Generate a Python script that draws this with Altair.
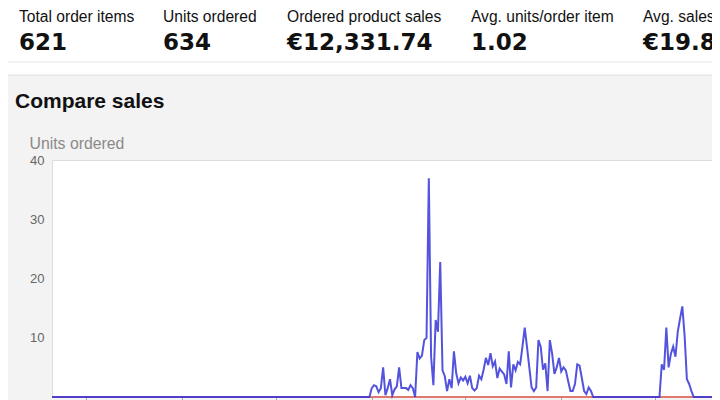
import altair as alt
import pandas as pd

# ---- KPI strip ----
kpi_labels = ["Total order items", "Units ordered", "Ordered product sales",
              "Avg. units/order item", "Avg. sales/order item"]
kpi_values = ["621", "634", "€12,331.74", "1.02", "€19.86"]

# ---- daily units ordered ----
zeros_start = [0] * 138
burst_1 = [0, 0, 1.5, 2, 1.8, 0.8, 1.5, 5, 0.3, 1.5, 3, 0.3, 1.3, 1.8, 5, 1.5,
           1.5, 1.5, 1.2, 2, 1.5, 0, 7.6, 6.5, 7, 9.6, 10, 36.9, 6.8, 2, 13, 11,
           22.8, 4.5, 3.5, 1, 3, 1.5, 7.7, 4, 2.3, 3.3, 2.8, 3.4, 2.3, 3.6, 1.5,
           1.1, 1.5, 3.6, 3, 4.6, 6.6, 5.4, 7.4, 5.2, 6, 3.2, 4.8, 4.3, 3.8, 2.2,
           7.7, 1.6, 5.5, 4.5, 5.9, 5.5, 8.5, 11.7, 8.4, 5, 1.6, 1, 1.6, 9.6, 8.5,
           4.6, 5.7, 1, 9.6, 7.3, 3.9, 5, 6.6, 4.3, 5, 4.5, 2.7, 1, 1, 2.2, 5.5,
           5.3, 3.2, 1, 0.5, 1.6, 1, 0]
zeros_mid = [0] * 29
burst_2 = [5.5, 4.6, 11.7, 5, 7.3, 8.5, 6.8, 11, 13.2, 15.3, 10.4, 3, 2.2, 1, 0]
zeros_end = [0] * 8

units_this = zeros_start + burst_1 + zeros_mid + burst_2 + zeros_end
n = len(units_this)
units_compare = [0] * n
days = list(range(n))

y_ticks = [10, 20, 30, 40]
x_ticks = [15, 57, 98, 140, 181, 223, 264]

df_this = pd.DataFrame({"day": days, "units": units_this})
df_cmp = pd.DataFrame({"day": days, "units": units_compare})

W, H = 660, 237
one = pd.DataFrame({"k": [0]})

x_enc = alt.X("day:Q", scale=alt.Scale(domain=[0, n - 1], nice=False, zero=False),
              axis=alt.Axis(values=x_ticks, labels=False, domain=False, ticks=True,
                            tickColor="#aaaaaa", tickSize=4, grid=False, title=""))
y_enc = alt.Y("units:Q", scale=alt.Scale(domain=[0, 40], nice=False),
              axis=alt.Axis(values=y_ticks, domain=False, ticks=False, grid=False,
                            labelColor="#666666", labelFontSize=13, labelPadding=8,
                            labelFont="Liberation Sans",
                            title="Units ordered", titleAngle=0, titleAlign="left",
                            titleBaseline="alphabetic", titleX=-23, titleY=-12,
                            titleColor="#8a8a8a", titleFontWeight="normal",
                            titleFontSize=15.8, titleFont="Liberation Sans"))

top_strip = alt.Chart(one).mark_rect(color="white").encode(
    x=alt.value(-44), x2=alt.value(660), y=alt.value(-152), y2=alt.value(-85))
strip_border = alt.Chart(one).mark_rule(color="#e4e4e4", strokeWidth=1).encode(
    x=alt.value(-44), x2=alt.value(660), y=alt.value(-98))
panel_border = alt.Chart(one).mark_rule(color="#e0e0e0", strokeWidth=1).encode(
    x=alt.value(-44), x2=alt.value(660), y=alt.value(-85))

kpi_x = [-33, 111, 235, 419, 591]
texts = []
for lbl, val, xx in zip(kpi_labels, kpi_values, kpi_x):
    texts.append(alt.Chart(one).mark_text(
        align="left", baseline="alphabetic", font="Liberation Sans",
        fontSize=15.6, color="#111111").encode(
        x=alt.value(xx), y=alt.value(-138), text=alt.value(lbl)))
    texts.append(alt.Chart(one).mark_text(
        align="left", baseline="alphabetic", font="DejaVu Sans",
        fontSize=23, fontWeight="bold", color="#111111").encode(
        x=alt.value(xx), y=alt.value(-110), text=alt.value(val)))

title_txt = alt.Chart(one).mark_text(
    align="left", baseline="alphabetic", font="Liberation Sans",
    fontSize=21, fontWeight="bold", color="#111111").encode(
    x=alt.value(-37), y=alt.value(-52), text=alt.value("Compare sales"))

line_cmp = alt.Chart(df_cmp).mark_line(color="#e07a70", strokeWidth=2.2).encode(
    x=x_enc, y=y_enc)
line_this = alt.Chart(df_this).mark_line(color="#3535d8", strokeWidth=2,
                                         opacity=0.85).encode(x=x_enc, y=y_enc)

chart = alt.layer(top_strip, strip_border, panel_border, *texts, title_txt,
                  line_cmp, line_this).properties(
    width=W, height=H,
    autosize=alt.AutoSizeParams(type="none"),
    padding={"left": 44, "top": 152, "right": 0, "bottom": 3},
).configure(background="#f3f3f3").configure_view(fill="white", stroke="#dcdcdc")

chart.save("out.html", embed_options={"renderer": "svg", "actions": False})
